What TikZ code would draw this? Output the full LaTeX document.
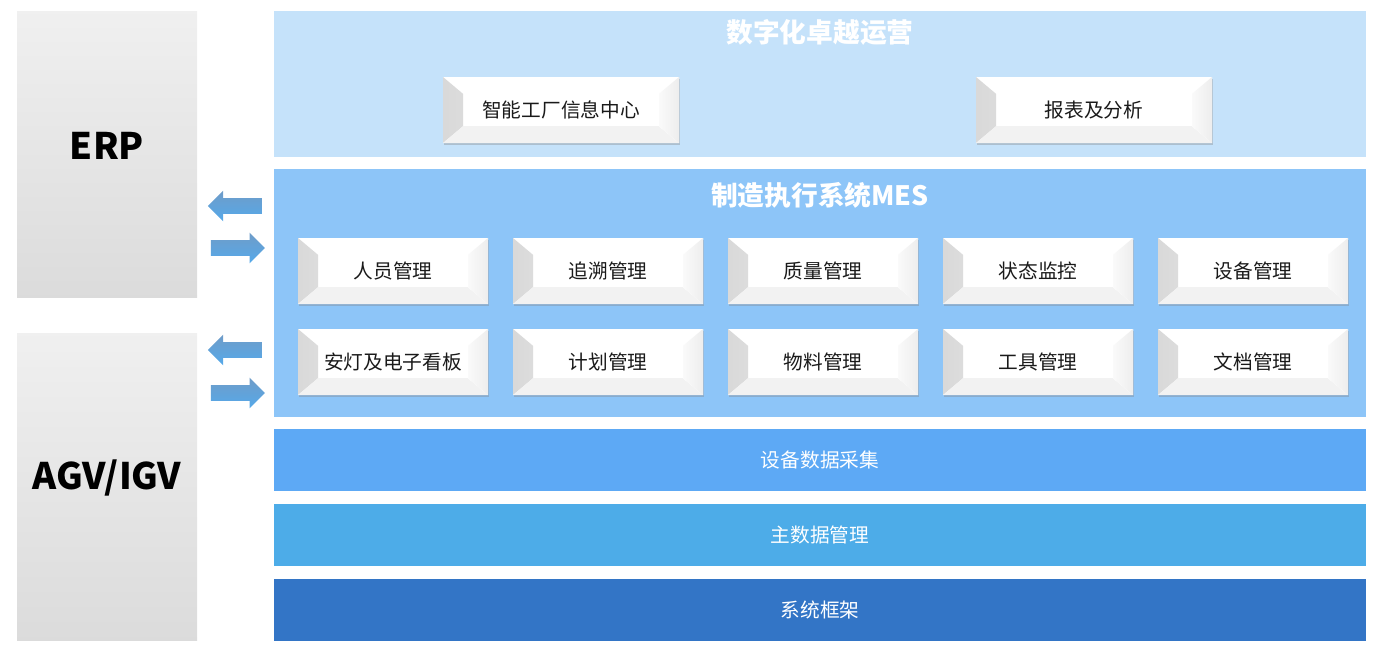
\documentclass[tikz,border=0pt]{standalone}
\usepackage{fontspec}
\setmainfont{Noto Sans CJK SC}
\usetikzlibrary{shapes.arrows,shadows,positioning}
\definecolor{bandtop}{HTML}{C5E2FA}
\definecolor{bandmes}{HTML}{8DC5F8}
\definecolor{bandacq}{HTML}{5DA9F5}
\definecolor{bandmd}{HTML}{4DACE8}
\definecolor{bandsys}{HTML}{3375C6}
\definecolor{arrowtop}{HTML}{6F9CC8}
\definecolor{arrowbot}{HTML}{55A9EA}
\definecolor{boxtext}{HTML}{1A1A1A}
\tikzstyle{band}=[rectangle,minimum width=27.3cm,inner sep=0pt,text=white,font=\fontsize{14}{16}\selectfont]
\tikzstyle{extsys}=[rectangle,minimum width=4.5cm,top color=black!6,bottom color=black!14,inner sep=0pt]
\tikzstyle{extname}=[font=\fontsize{26}{30}\bfseries\selectfont]
\tikzstyle{title}=[text=white,font=\fontsize{19}{22}\bfseries\selectfont]
\tikzstyle{module}=[rectangle,fill=white,minimum width=4.75cm,minimum height=1.65cm,text=boxtext,
  font=\fontsize{14}{16}\selectfont,
  drop shadow={shadow xshift=0.4pt,shadow yshift=-1.6pt,opacity=0.35},
  path picture={
    \fill[left color=black!15,right color=black!2]
      (path picture bounding box.north west) -- ([shift={(0.5,-0.42)}]path picture bounding box.north west)
      -- ([shift={(0.5,0.42)}]path picture bounding box.south west) -- (path picture bounding box.south west) -- cycle;
    \fill[black!5]
      (path picture bounding box.south west) -- ([shift={(0.5,0.42)}]path picture bounding box.south west)
      -- ([shift={(-0.5,0.42)}]path picture bounding box.south east) -- (path picture bounding box.south east) -- cycle;
    \fill[left color=black!2,right color=black!7]
      (path picture bounding box.south east) -- ([shift={(-0.5,0.42)}]path picture bounding box.south east)
      -- ([shift={(-0.5,-0.42)}]path picture bounding box.north east) -- (path picture bounding box.north east) -- cycle;
  }]
\tikzstyle{flow}=[single arrow,minimum height=1.35cm,minimum width=0.75cm,inner xsep=0pt,inner ysep=0.1875cm,
  single arrow head extend=0.1875cm,top color=arrowtop,bottom color=arrowbot,draw=none]

\begin{document}
\begin{tikzpicture}
\def \colstep {5.375};
\def \colone {9.825};

\useasboundingbox (0,0) rectangle (34.6,-16.5);

% external systems
\node[extsys,minimum height=7.15cm] (erp) at (2.675,-3.85) {};
\node[extname] (erpname) at (2.675,-3.65) {ERP};
\node[extsys,minimum height=7.675cm] (agv) at (2.675,-12.1625) {};
\node[extname] (agvname) at (2.675,-11.95) {AGV/IGV};

% layers
\node[band,fill=bandtop,minimum height=3.65cm] (ops) at (20.5,-2.1) {};
\node[title] (opstitle) at (20.5,-0.8) {数字化卓越运营};
\node[module,minimum width=5.9cm] (info) at (14.025,-2.75) {智能工厂信息中心};
\node[module,minimum width=5.9cm] (report) at (27.35,-2.75) {报表及分析};

\node[band,fill=bandmes,minimum height=6.2cm] (mes) at (20.5,-7.325) {};
\node[title] (mestitle) at (20.5,-4.875) {制造执行系统MES};

\foreach \name [count=\i] in {人员管理,追溯管理,质量管理,状态监控,设备管理} {
	\node[module] (up\i) at (\colone + \i * \colstep - \colstep, -6.775) {\name};
};
\foreach \name [count=\i] in {安灯及电子看板,计划管理,物料管理,工具管理,文档管理} {
	\node[module] (low\i) at (\colone + \i * \colstep - \colstep, -9.05) {\name};
};

\node[band,fill=bandacq,minimum height=1.55cm] (acq) at (20.5,-11.5) {设备数据采集};
\node[band,fill=bandmd,minimum height=1.55cm] (master) at (20.5,-13.375) {主数据管理};
\node[band,fill=bandsys,minimum height=1.55cm] (frame) at (20.5,-15.25) {系统框架};

% interfaces
\node[flow,shape border rotate=180] (erpin) at (5.97,-5.15) {};
\node[flow] (erpout) at (5.85,-6.2) {};
\node[flow,shape border rotate=180] (agvin) at (5.97,-8.75) {};
\node[flow] (agvout) at (5.85,-9.825) {};

\end{tikzpicture}
\end{document}
